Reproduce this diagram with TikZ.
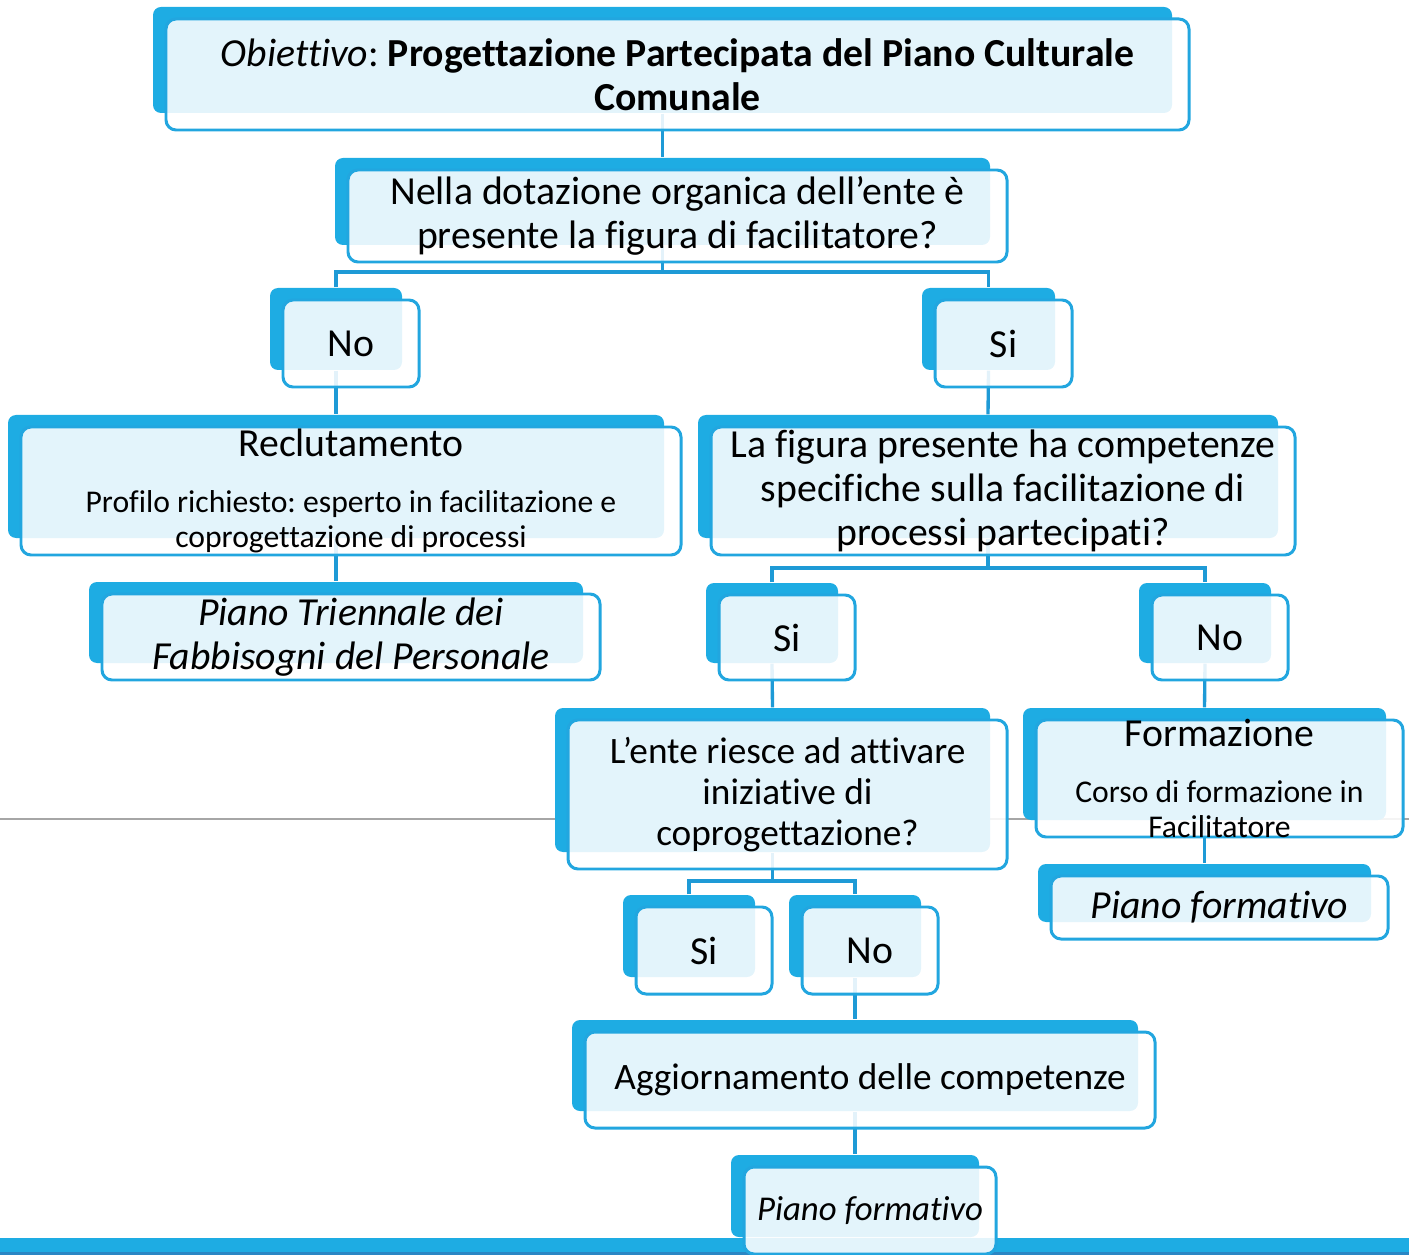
\documentclass[tikz,border=0pt]{standalone}
\usepackage{fontspec}
\setmainfont{Carlito}[Ligatures={NoCommon}]
\usetikzlibrary{fit}
\frenchspacing

\definecolor{sablue}{HTML}{1EACE3}
\definecolor{edgeblue}{HTML}{22A6DF}
\definecolor{linkblue}{HTML}{1E9AD6}
\definecolor{barblue}{HTML}{2A86C4}
\definecolor{rulegray}{HTML}{A6A6A6}

\pgfdeclarelayer{bg}
\pgfsetlayers{bg,main}

\tikzset{
  backshape/.style={fill=sablue, draw=none, rounded corners=0.08cm, inner sep=0pt},
  frontshape/.style={fill=white, fill opacity=0.88, draw=edgeblue, draw opacity=1,
    line width=0.85pt, rounded corners=0.1cm, inner sep=0pt},
  boxtext/.style={align=center, inner sep=0pt, font=\fontsize{11.3}{12.5}\selectfont},
  conn/.style={draw=linkblue, line width=0.95pt},
}

% #1 name, (#2,#3)-(#4,#5) solid back card, #6 text on the front card
\newcommand{\stackbox}[6]{%
  \node[backshape, fit={(#2,#3) (#4,#5)}] (#1) {};
  \node[frontshape, fit={(#2+13,#3+12) (#4+17,#5+17)}] (#1-f) {};
  \node[boxtext] (#1-t) at (#1-f.center) {#6};
}
\newcommand{\subsz}{\fontsize{9.0}{10}\selectfont}
\newcommand{\midsz}{\fontsize{10.6}{11.7}\selectfont}

\begin{document}
\begin{tikzpicture}[x=0.01cm, y=-0.01cm]
\useasboundingbox (0,0) rectangle (1409,1255);

% cards
\stackbox{obj}{153}{7}{1172}{113}{{\itshape Obiettivo}: {\bfseries Progettazione Partecipata del Piano Culturale}\\{\bfseries Comunale}}
\stackbox{q1}{335}{158}{990}{245}{Nella dotazione organica dell’ente è\\presente la figura di facilitatore?}
\stackbox{no1}{270}{288}{402}{370}{No}
\stackbox{si1}{922}{288}{1055}{370}{Si}
\stackbox{recl}{8}{415}{664}{538}{Reclutamento\\[3.2pt]{\subsz Profilo richiesto: esperto in facilitazione e}\\[-2.5pt]{\subsz coprogettazione di processi}}
\stackbox{q2}{698}{415}{1278}{538}{La figura presente ha competenze\\specifiche sulla facilitazione di\\processi partecipati?}
\stackbox{ptfp}{89}{582}{583}{663}{\itshape Piano Triennale dei\\\itshape Fabbisogni del Personale}
\stackbox{si2}{706}{583}{838}{663}{Si}
\stackbox{no2}{1139}{583}{1271}{663}{No}
\stackbox{q3}{555}{708}{990}{852}{\midsz L’ente riesce ad attivare\\[-0.85pt]\midsz iniziative di\\[-0.85pt]\midsz coprogettazione?}
\stackbox{form}{1023}{708}{1386}{820}{Formazione\\[3.2pt]{\subsz Corso di formazione in}\\[-2.5pt]{\subsz Facilitatore}}
\stackbox{pf1}{1038}{864}{1371}{922}{\itshape Piano formativo}
\stackbox{si3}{623}{895}{755}{977}{Si}
\stackbox{no3}{789}{895}{921}{977}{No}
\stackbox{agg}{572}{1020}{1138}{1111}{\midsz Aggiornamento delle competenze}
\stackbox{pf2}{731}{1155}{979}{1237}{\fontsize{9.9}{11}\selectfont\itshape Piano formativo}

% junction levels of the branching connectors
\coordinate (j1) at (0,272);
\coordinate (j2) at (0,568);
\coordinate (j3) at (0,881);

\begin{pgfonlayer}{bg}
  % page rule and footer band
  \draw[rulegray, line width=0.55pt] (0,819) -- (1409,819);
  \fill[sablue] (0,1238) rectangle (1409,1252);
  \fill[barblue] (0,1252) rectangle (1409,1255);

  % connectors
  \draw[conn] (obj.south) -- (q1.north);
  \draw[conn] (q1.south) -- (q1.south |- j1);
  \draw[conn] (no1.north) -- (no1.north |- j1) -| (si1.north);
  \draw[conn] (no1.south) -- (recl.north);
  \draw[conn] (si1.south) -- (q2.north);
  \draw[conn] (recl.south) -- (ptfp.north);
  \draw[conn] (q2.south) -- (q2.south |- j2);
  \draw[conn] (si2.north) -- (si2.north |- j2) -| (no2.north);
  \draw[conn] (si2.south) -- (q3.north);
  \draw[conn] (no2.south) -- (form.north);
  \draw[conn] (form.south) -- (pf1.north);
  \draw[conn] (q3.south) -- (q3.south |- j3);
  \draw[conn] (si3.north) -- (si3.north |- j3) -| (no3.north);
  \draw[conn] (no3.south) -- (agg.north);
  \draw[conn] (agg.south) -- (pf2.north);
\end{pgfonlayer}
\end{tikzpicture}
\end{document}
